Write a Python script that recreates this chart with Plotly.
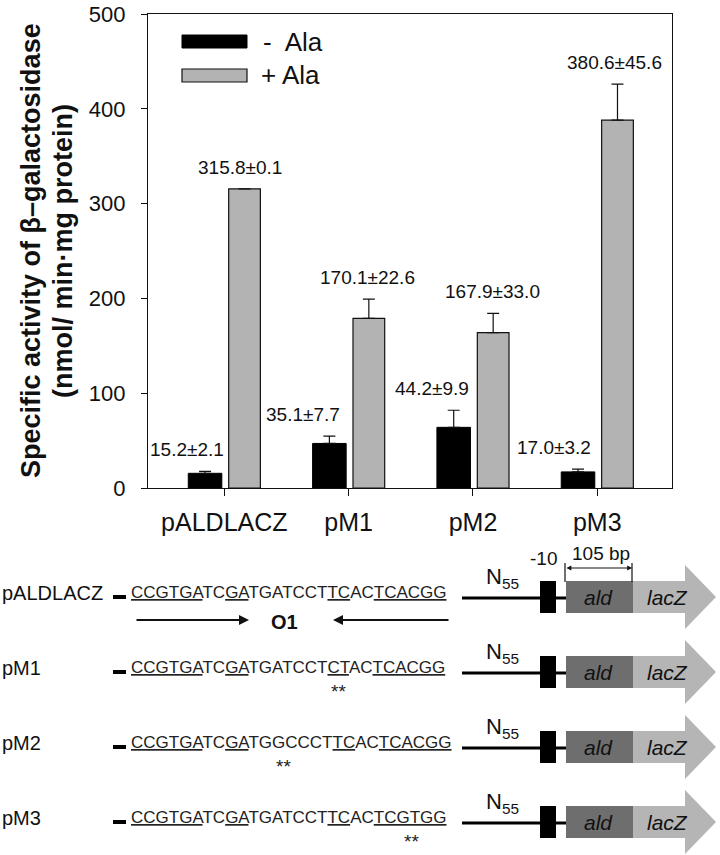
import plotly.graph_objects as go

# ---------------- data ----------------
categories = ["pALDLACZ", "pM1", "pM2", "pM3"]
minus_ala = [15.5, 47, 64, 17]
minus_err = [2, 7.7, 18, 3]
plus_ala = [315.5, 179, 164, 388]
plus_err = [0, 20.3, 20.3, 38]
minus_labels = ["15.2±2.1", "35.1±7.7", "44.2±9.9", "17.0±3.2"]
plus_labels = ["315.8±0.1", "170.1±22.6", "167.9±33.0", "380.6±45.6"]
series_names = ["-  Ala", "+ Ala"]
y_ticks = [0, 100, 200, 300, 400, 500]
y_title_lines = ["Specific activity of β–galactosidase", "(nmol/ min·mg protein)"]

construct_names = ["pALDLACZ", "pM1", "pM2", "pM3"]
sequences = [
    "CCGTGATCGATGATCCTTCACTCACGG",
    "CCGTGATCGATGATCCTCTACTCACGG",
    "CCGTGATCGATGGCCCTTCACTCACGG",
    "CCGTGATCGATGATCCTTCACTCGTGG",
]
underlined_spans = [(0, 6), (8, 10), (17, 19), (21, 27)]

# ---------------- style / layout ----------------
W, H = 720, 855
FONT = "Liberation Sans, Arial, sans-serif"
BLACK = "#000000"
GRAY = "#b3b3b3"
ALD = "#6e6e6e"
LACZ = "#b5b5b5"

x_pos = list(range(len(categories)))
minus_offset, minus_width = -0.29, 0.27
plus_offset, plus_width = 0.035, 0.255
minus_label_dx = [-0.30, -0.368, -0.33, -0.346]
plus_label_dx = [0.13, 0.148, 0.158, 0.137]

fig = go.Figure()
fig.add_trace(go.Bar(
    x=x_pos, y=minus_ala, name=series_names[0], offset=minus_offset, width=minus_width,
    marker=dict(color=BLACK, line=dict(color=BLACK, width=1)),
    error_y=dict(type="data", array=minus_err, arrayminus=[0] * 4, symmetric=False,
                 color="#111", thickness=1.2, width=6),
    showlegend=False, xaxis="x", yaxis="y",
))
fig.add_trace(go.Bar(
    x=x_pos, y=plus_ala, name=series_names[1], offset=plus_offset, width=plus_width,
    marker=dict(color=GRAY, line=dict(color="#111", width=1.2)),
    error_y=dict(type="data", array=plus_err, arrayminus=[0] * 4, symmetric=False,
                 color="#111", thickness=1.2, width=6),
    showlegend=False, xaxis="x", yaxis="y",
))

annotations = []
# value labels above bars
for i in range(len(categories)):
    annotations.append(dict(
        x=x_pos[i] + minus_label_dx[i], y=minus_ala[i] + minus_err[i], xref="x", yref="y",
        text=minus_labels[i], showarrow=False, yanchor="bottom", yshift=9,
        font=dict(family=FONT, size=19, color="#111")))
    annotations.append(dict(
        x=x_pos[i] + plus_label_dx[i], y=plus_ala[i] + plus_err[i], xref="x", yref="y",
        text=plus_labels[i], showarrow=False, yanchor="bottom", yshift=9,
        font=dict(family=FONT, size=19, color="#111")))

# y axis title (two lines)
for xv, line in zip((31, 63), y_title_lines):
    annotations.append(dict(
        x=xv, y=251, xref="x2", yref="y2", textangle=-90, showarrow=False,
        text=f"<b>{line}</b>", font=dict(family=FONT, size=27, color="#111")))

shapes = []
# legend
shapes.append(dict(type="rect", xref="x2", yref="y2", x0=182, x1=247, y0=35, y1=48,
                   fillcolor=BLACK, line=dict(color=BLACK, width=1)))
shapes.append(dict(type="rect", xref="x2", yref="y2", x0=182, x1=247, y0=69, y1=82,
                   fillcolor=GRAY, line=dict(color="#111", width=1.2)))
annotations.append(dict(x=261, y=42, xref="x2", yref="y2", xanchor="left", showarrow=False,
                        text=series_names[0], font=dict(family=FONT, size=26, color="#111")))
annotations.append(dict(x=259, y=75, xref="x2", yref="y2", xanchor="left", showarrow=False,
                        text=series_names[1], font=dict(family=FONT, size=26, color="#111")))

# ---------------- promoter diagram ----------------
row_y = [592, 667, 742, 817]
star_x = [None, 338, 283, 411]


def seq_html(seq):
    out, i = "", 0
    for a, b in sorted(underlined_spans):
        out += seq[i:a] + "<u>" + seq[a:b] + "</u>"
        i = b
    return out + seq[i:]


for k, r in enumerate(row_y):
    c = r + 5
    annotations.append(dict(x=0, y=r + 1, xref="x2", yref="y2", xanchor="left", showarrow=False,
                            text=construct_names[k], font=dict(family=FONT, size=20, color="#111")))
    shapes.append(dict(type="rect", xref="x2", yref="y2", x0=113, x1=126, y0=c - 2, y1=c + 2,
                       fillcolor=BLACK, line=dict(width=0)))
    annotations.append(dict(x=129, y=r, xref="x2", yref="y2", xanchor="left", showarrow=False,
                            text=seq_html(sequences[k]),
                            font=dict(family=FONT, size=17, color="#222")))
    if star_x[k] is not None:
        annotations.append(dict(x=star_x[k], y=r + 24, xref="x2", yref="y2", showarrow=False,
                                text="**", font=dict(family=FONT, size=19, color="#222")))
    # line with N55
    shapes.append(dict(type="line", xref="x2", yref="y2", x0=462, x1=566, y0=c + 1, y1=c + 1,
                       line=dict(color=BLACK, width=3)))
    annotations.append(dict(x=484, y=c - 3, xref="x2", yref="y2", xanchor="left", yanchor="bottom",
                            showarrow=False, text="N<sub>55</sub>",
                            font=dict(family=FONT, size=22, color="#111")))
    # -10 box
    shapes.append(dict(type="rect", xref="x2", yref="y2", x0=540, x1=556, y0=c - 16, y1=c + 16,
                       fillcolor=BLACK, line=dict(width=0)))
    # lacZ arrow
    shapes.append(dict(type="path", xref="x2", yref="y2",
                       path=f"M 633 {c-16} L 685 {c-16} L 685 {c-32} L 716 {c} L 685 {c+32} L 685 {c+16} L 633 {c+16} Z",
                       fillcolor=LACZ, line=dict(width=0)))
    # ald box
    shapes.append(dict(type="rect", xref="x2", yref="y2", x0=566, x1=633, y0=c - 16, y1=c + 16,
                       fillcolor=ALD, line=dict(width=0)))
    annotations.append(dict(x=598, y=c, xref="x2", yref="y2", showarrow=False,
                            text="<i>ald</i>", font=dict(family=FONT, size=21, color="#111")))
    annotations.append(dict(x=667, y=c, xref="x2", yref="y2", showarrow=False,
                            text="<i>lacZ</i>", font=dict(family=FONT, size=21, color="#111")))

# O1 arrows (row 1)
annotations.append(dict(x=249, y=620, ax=135, ay=620, xref="x2", yref="y2", axref="x2", ayref="y2",
                        showarrow=True, arrowhead=2, arrowsize=1, arrowwidth=2, arrowcolor="#111", text=""))
annotations.append(dict(x=333, y=620, ax=450, ay=620, xref="x2", yref="y2", axref="x2", ayref="y2",
                        showarrow=True, arrowhead=2, arrowsize=1, arrowwidth=2, arrowcolor="#111", text=""))
annotations.append(dict(x=284, y=622, xref="x2", yref="y2", showarrow=False,
                        text="<b>O1</b>", font=dict(family=FONT, size=20, color="#111")))

# -10 and 105 bp
annotations.append(dict(x=543, y=558, xref="x2", yref="y2", showarrow=False,
                        text="-10", font=dict(family=FONT, size=19, color="#111")))
annotations.append(dict(x=601, y=553, xref="x2", yref="y2", showarrow=False,
                        text="105 bp", font=dict(family=FONT, size=19, color="#111")))
for xv in (565, 632):
    shapes.append(dict(type="line", xref="x2", yref="y2", x0=xv, x1=xv, y0=563, y1=582,
                       line=dict(color="#111", width=1.2)))
annotations.append(dict(x=632, y=568, ax=565, ay=568, xref="x2", yref="y2", axref="x2", ayref="y2",
                        showarrow=True, arrowhead=2, startarrowhead=2, arrowside="end+start",
                        arrowsize=0.8, startarrowsize=0.8, arrowwidth=1.2, arrowcolor="#111", text=""))

# ---------------- axes ----------------
x_left, x_right = 148, 672
y_top, y_bot = 14, 488

fig.update_layout(
    width=W, height=H,
    margin=dict(l=0, r=0, t=0, b=0),
    paper_bgcolor="white", plot_bgcolor="rgba(0,0,0,0)",
    barmode="overlay",
    font=dict(family=FONT, color="#111"),
    xaxis=dict(domain=[x_left / W, x_right / W], range=[-0.614, 3.601],
               tickvals=x_pos, ticktext=categories, ticks="outside", ticklen=7,
               tickcolor="#111", showgrid=False, zeroline=False,
               showline=True, linecolor="#111", linewidth=1.2, mirror=True,
               ticklabelstandoff=5, ticklabeloverflow="allow",
               tickfont=dict(family=FONT, size=25, color="#111"), automargin=False),
    yaxis=dict(domain=[1 - y_bot / H, 1 - y_top / H], range=[0, 500],
               tickvals=y_ticks, ticks="outside", ticklen=6, tickcolor="#111",
               showgrid=False, zeroline=False,
               showline=True, linecolor="#111", linewidth=1.2, mirror=True,
               ticklabelstandoff=11, ticklabeloverflow="allow",
               tickfont=dict(family=FONT, size=22, color="#111"), automargin=False),
    xaxis2=dict(domain=[0, 1], range=[0, W], visible=False, fixedrange=True, anchor="y2"),
    yaxis2=dict(domain=[0, 1], range=[H, 0], visible=False, fixedrange=True, anchor="x2"),
    annotations=annotations,
    shapes=shapes,
)

fig.write_html("out.html", config={"displayModeBar": False},
               post_script="document.body.style.margin='0px';")
